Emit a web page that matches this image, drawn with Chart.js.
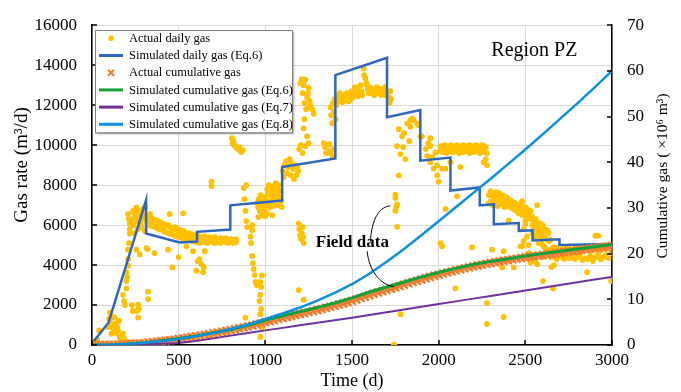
<!DOCTYPE html>
<html>
<head>
<meta charset="utf-8">
<script src="https://cdn.jsdelivr.net/npm/chart.js@4.4.1/dist/chart.umd.min.js"></script>
<style>
html,body{margin:0;padding:0;background:#fff;}
#wrap{width:681px;height:392px;}
</style>
</head>
<body>
<div id="wrap"><canvas id="c" width="681" height="392"></canvas></div>
<script>
// ---------- DATA ----------
// Actual daily gas rate [day, m3/d]
const actualDailyGas = [
[0,0],[5,100],[10,40],[18,200],[25,120],[30,260],[41,730],
[93,900],[98,1300],[102,1620],[108,1100],[112,570],[118,880],[122,1400],[126,700],[131,1370],[136,1050],[140,600],[145,900],[150,730],[155,1200],[160,400],[165,250],[170,150],[179,570],[185,300],[190,200],[200,150],[210,100],[225,80],[240,60],
[179,2510],[185,2200],[190,2000],[198,2830],[198,3200],[198,3640],[203,3400],[208,3970],[208,4300],[208,4770],[213,5100],[218,5580],[218,5800],[218,6070],[208,6550],[213,6300],[225,6200],[237,6710],[245,6600],[256,6880],[265,6750],[275,6630],[285,6500],[295,6800],[305,6900],[266,2020],[266,1370],[260,1700],[270,1800],[324,2670],[324,2300],[314,4850],[275,4530],[256,4770],[230,2000],[235,1700],
[230,6300],[240,6000],[250,6400],[260,6200],[270,6500],[280,6100],[290,6350],[300,6550],[245,5600],[265,5800],[285,5900],[305,5700],
[314,6500],[314,6200],[325,6400],[325,6000],[335,6550],[335,6100],[345,6350],[345,5950],[355,6300],[355,6050],[365,6200],[365,5900],[375,6250],[375,5850],[385,6100],[385,5800],[395,6150],[395,5900],[405,6000],[405,5750],[415,6050],[415,5700],[425,5950],[425,5650],[440,6000],[440,5600],[450,5900],[450,5550],[460,5850],[460,5600],[470,5800],[470,5500],[480,5900],[480,5450],[490,5750],[490,5500],[500,5800],[500,5400],[510,5700],[510,5450],[520,5650],[520,5350],[530,5700],[530,5300],[540,5600],[540,5400],[550,5550],[550,5300],[560,5600],[560,5250],[570,5500],[570,5300],[580,5550],[580,5200],[590,5450],[590,5250],[600,5500],[600,5150],[610,5400],[610,5200],[620,5450],[620,5100],[635,5400],[635,5200],[650,5450],[650,5150],[665,5350],[665,5100],[680,5400],[680,5200],[695,5350],[695,5150],[710,5400],[710,5100],[725,5300],[725,5150],[740,5350],[740,5100],[755,5300],[755,5200],[770,5350],[770,5150],[785,5250],[785,5100],[800,5300],[800,5200],[815,5250],[815,5100],[830,5300],[830,5150],
[448,6550],[526,6590],[464,3880],[320,4805],[602,3720],[641,3640],[583,4690],[650,4690],[439,4770],[545,4935],[689,8170],[689,7950],[678,485],[360,4600],[500,4400],[620,4300],[610,4200],[630,4050],[645,3900],
[808,10350],[815,10200],[820,10000],[827,9950],[835,9850],[845,9800],[856,9700],[862,9650],[870,9750],[812,10100],[850,9900],
[875,7850],[880,7300],[885,6710],[890,6200],[895,5900],[914,5420],[918,5100],[924,4450],[924,5740],[924,6000],[928,4100],[933,3800],[938,3500],[943,3155],[950,3000],[971,3155],[981,3480],[976,2900],[971,2510],[966,2200],[971,1540],[976,1800],[885,1370],[991,1210],[971,400],[981,890],[890,8000],
[952,7100],[958,6900],[962,7300],[968,6700],[972,7500],[978,7000],[985,6500],[990,7200],[995,6800],[1000,7400],[1005,7000],[1010,6600],[1015,7600],[1020,7200],[1025,6900],[1030,7500],[1035,7100],[1040,7700],[1045,7300],[1050,6950],[1055,7600],[1060,7400],[1065,7800],[1068,7000],[960,6400],[1000,6450],[1040,6500],
[1010,7800],[1020,8000],[1030,7900],[1045,7950],[1060,8100],[1075,8000],[1087,7700],[1080,7400],[1070,7600],[1090,7200],[1095,6900],
[1100,8700],[1110,9000],[1120,9200],[1130,8900],[1140,9300],[1150,9100],[1160,8800],[1170,9000],[1180,8500],[1190,8700],[1105,8400],[1125,8600],[1145,8500],[1165,8300],[1185,8900],
[1202,13100],[1210,13300],[1221,13000],[1231,13270],[1241,12380],[1250,12860],[1260,11970],[1279,11570],[1221,10840],[1241,10440],[1231,9950],[1215,12600],[1225,12100],[1235,11800],[1245,12600],[1255,12200],[1270,11800],[1225,11300],[1195,9800],[1205,10000],[1215,9600],[1250,10100],
[1193,6070],[1196,5800],[1200,5500],[1205,5300],[1210,5600],[1215,5900],[1221,5100],[1218,5400],[1221,2270],[1193,2750],
[1337,10100],[1345,9900],[1355,10000],[1365,9700],[1375,9600],[1385,9465],[1395,9800],[1350,9600],[1370,10050],
[1375,11900],[1380,11500],[1385,11100],[1390,12100],[1395,11700],[1400,12300],[1405,11300],[1410,12000],[1414,12380],[1420,12500],[1425,12200],[1430,12600],[1435,12300],[1440,12450],[1445,12150],[1452,12220],[1458,12500],[1465,12300],[1470,12600],[1475,12400],[1480,12200],[1485,12500],[1491,12300],[1497,12700],[1503,12400],[1510,12600],[1515,12900],[1520,12500],[1529,12700],[1535,12450],[1540,12900],[1545,12600],[1550,13000],[1555,12700],[1560,12500],[1567,13830],[1570,13500],[1577,13350],[1582,13100],[1587,13020],[1592,12800],[1598,12600],[1606,12860],[1612,12600],[1620,12800],[1628,12500],[1635,12750],[1642,12900],[1650,12600],[1657,12800],[1664,12780],[1670,12500],[1677,12750],[1684,12600],[1690,12900],[1697,12500],[1705,12650],[1712,12400],[1721,12700],[1725,12300],[1715,12100],
[1760,9950],[1789,10440],[1818,11080],[1856,11250],[1885,11000],[1904,10440],[1779,9550],[1808,9300],[1770,10800],[1800,10600],[1837,11250],[1837,10920],[1847,11320],[1876,11080],[1895,10440],[1830,10200],[1795,9900],
[1933,9465],[1952,9140],[1971,8820],[1991,8490],[2000,8170],[1952,9950],[1981,9630],[2020,8820],[2068,9140],[1952,10350],[1991,8980],[1925,9800],[1940,10100],[1962,9400],
[2010,9950],[2010,9700],[2022,9900],[2022,9650],[2034,10000],[2034,9750],[2046,9950],[2046,9600],[2058,9900],[2058,9700],[2070,10000],[2070,9800],[2082,9950],[2082,9650],[2094,9900],[2094,9750],[2106,10000],[2106,9700],[2118,9950],[2118,9600],[2130,9900],[2130,9800],[2142,10000],[2142,9650],[2154,9950],[2154,9750],[2166,9900],[2166,9700],[2178,10000],[2178,9600],[2190,9950],[2190,9800],[2202,9900],[2202,9650],[2214,10000],[2214,9750],[2226,9950],[2226,9700],[2238,9900],[2238,9600],[2250,10000],[2250,9800],[2262,9950],[2262,9650],[2272,9900],[2272,9300],[2279,9600],[2279,9000],
[2289,7500],[2289,7100],[2300,7550],[2300,7200],[2310,7450],[2310,7000],[2320,7520],[2320,7250],[2330,7400],[2330,7100],[2340,7500],[2340,6950],[2350,7450],[2350,7200],[2360,7380],[2360,7050],[2370,7480],[2370,7150],[2380,7350],[2380,6900],[2390,7400],[2390,7100],[2400,7300],[2400,6950],[2410,7250],[2410,7000],[2420,7200],[2420,6850],[2430,7150],[2430,6900],[2440,7100],[2440,6750],[2450,7050],[2450,6800],[2460,7000],[2460,6600],[2470,6950],[2470,6700],[2480,7000],[2480,6500],[2490,6850],[2490,6600],[2500,6900],[2500,6450],[2510,6800],[2510,6500],[2520,6700],[2520,6400],[2529,6650],[2529,6300],
[2300,7700],[2330,7650],[2350,7600],[2404,6230],[2500,6070],[2510,6390],
[2481,7200],[2529,6710],[2568,7000],[2587,6070],[2626,5740],[2645,5260],[2577,5100],[2529,4130],[2568,4045],[2471,4935],[2510,5420],[2500,6230],
[2540,6400],[2540,6000],[2540,5600],[2550,6200],[2550,5800],[2550,5400],[2560,6300],[2560,5900],[2560,5500],[2575,6100],[2575,5700],[2575,5300],[2590,5900],[2590,5500],[2590,5200],[2600,6000],[2600,5600],[2600,5000],[2610,5800],[2610,5400],[2610,4900],[2620,5700],[2620,5300],[2620,4800],[2635,5600],[2635,5200],[2635,4700],[2490,5800],[2490,5200],[2520,5000],[2520,4600],[2540,4500],[2540,4300],[2555,4200],[2600,4400],
[2650,4800],[2650,4400],[2650,3900],[2665,4900],[2665,4500],[2665,4000],[2680,4850],[2680,4300],[2695,4700],[2695,4500],[2710,4800],[2710,4400],[2725,4750],[2725,4300],[2740,4900],[2740,4500],[2755,4800],[2755,4350],[2770,4700],[2770,4450],[2785,4850],[2785,4300],[2800,4900],[2800,4400],[2815,4750],[2815,4500],[2830,4800],[2830,4250],[2845,4900],[2845,4350],[2860,4850],[2860,4300],[2875,4700],[2875,4450],[2890,4800],[2890,4200],[2905,4900],[2905,4400],[2920,4850],[2920,4550],[2935,4750],[2935,4300],[2950,4900],[2950,4400],[2965,4800],[2965,4500],[2980,4850],[2980,4350],[2995,4900],[2995,4600],
[2904,5470],[2920,5470],[2995,3200],[2602,3200],[2660,2830],[2856,3640],[2702,4530],[2779,4370],
[2020,4935],[2193,4890],[2308,4770],[2375,4690],[2481,4935],[2366,3880],[2433,3880],[2096,2830],[2279,2100],[2279,1050],[2375,1400],
[1770,8490],[1750,7520],[1760,7040],[1760,5910],[2010,5100],[1779,1540],[1740,0],[1745,0],[1750,7360],[1755,6900],[1750,6710],[2039,6800],[2106,7440],[2039,8820],[2125,8900],[2260,9140]
];

// Simulated daily gas (Eq.6) [day, m3/d]
const simDailyDays  = [0,96,312,312,506,606,606,798,798,1097,1097,1404,1404,1702,1702,1894,1894,2068,2068,2237,2237,2318,2318,2462,2462,2542,2542,2697,2697,3000,3000];
const simDailyRates = [80,1130,7250,5580,5130,5180,5660,5780,6990,7230,8900,9330,13500,14370,11400,11760,9220,9380,7730,7880,6990,7040,6040,6100,5710,5740,5230,5290,5000,5050,4610];

// Actual cumulative gas (x10^6 m3), every 25 days
const actualCumDays = [0,25,50,75,100,125,150,175,200,225,250,275,300,325,350,375,400,425,450,475,500,525,550,575,600,625,650,675,700,725,750,775,800,825,850,875,900,925,950,975,1000,1025,1050,1075,1100,1125,1150,1175,1200,1225,1250,1275,1300,1325,1350,1375,1400,1425,1450,1475,1500,1525,1550,1575,1600,1625,1650,1675,1700,1725,1750,1775,1800,1825,1850,1875,1900,1925,1950,1975,2000,2025,2050,2075,2100,2125,2150,2175,2200,2225,2250,2275,2300,2325,2350,2375,2400,2425,2450,2475,2500,2525,2550,2575,2600,2625,2650,2675,2700,2725,2750,2775,2800,2825,2850,2875,2900,2925,2950,2975,3000];
const actualCum = [0,0,0,0.01,0.03,0.05,0.08,0.11,0.15,0.21,0.28,0.35,0.42,0.52,0.62,0.73,0.85,0.96,1.07,1.18,1.3,1.45,1.6,1.75,1.9,2.06,2.22,2.38,2.55,2.72,2.9,3.07,3.25,3.45,3.65,3.85,4.05,4.27,4.5,4.75,5.0,5.22,5.45,5.67,5.9,6.12,6.35,6.57,6.8,7.0,7.2,7.42,7.65,7.87,8.1,8.35,8.6,8.85,9.1,9.37,9.65,9.95,10.25,10.57,10.9,11.2,11.5,11.77,12.05,12.32,12.6,12.9,13.2,13.5,13.8,14.07,14.35,14.62,14.9,15.15,15.4,15.65,15.9,16.12,16.35,16.57,16.8,17.0,17.2,17.4,17.6,17.77,17.95,18.12,18.3,18.45,18.6,18.75,18.9,19.05,19.2,19.32,19.45,19.57,19.7,19.82,19.95,20.07,20.2,20.32,20.45,20.57,20.7,20.82,20.95,21.07,21.2,21.32,21.45,21.57,21.7];

// Simulated cumulative gas (x10^6 m3), every 100 days
const simCumDays = [0,100,200,300,400,500,600,700,800,900,1000,1100,1200,1300,1400,1500,1600,1700,1800,1900,2000,2100,2200,2300,2400,2500,2600,2700,2800,2900,3000];
const simCumEq6 = [0,0.05,0.2,0.5,0.95,1.4,2.0,2.7,3.4,4.3,5.4,6.4,7.3,8.2,9.2,10.3,11.6,12.7,13.8,14.9,15.9,16.8,17.6,18.3,18.9,19.5,20.0,20.5,21.0,21.5,22.0];
const simCumEq7 = [0,0.01,0.04,0.1,0.25,0.45,0.9,1.45,2.05,2.65,3.2,3.75,4.3,4.85,5.4,5.95,6.55,7.15,7.75,8.35,8.95,9.55,10.15,10.75,11.35,11.95,12.55,13.15,13.75,14.35,14.9];
const simCumEq8 = [0,0.05,0.2,0.5,0.9,1.3,1.9,2.6,3.5,4.5,5.7,6.9,8.2,9.7,11.4,13.3,15.6,18.2,21.0,24.0,27.1,30.2,33.3,36.4,39.6,42.8,46.1,49.5,52.9,56.4,60.0];

const seriesLabels = ['Actual daily gas','Simulated daily gas (Eq.6)','Actual cumulative gas','Simulated cumulative gas (Eq.6)','Simulated cumulative gas (Eq.7)','Simulated cumulative gas (Eq.8)'];
const axisTitles = { x: 'Time (d)', y: 'Gas rate (m³/d)', y1: 'Cumulative gas ( ×10⁶ m³)' };

// ---------- CHART ----------
const SERIF = "'Liberation Serif','Times New Roman',serif";
Chart.defaults.font.family = SERIF;
Chart.defaults.color = '#000';

const zip = (xs, ys) => xs.map((x, i) => ({x: x, y: ys[i]}));
const plain = v => String(v);

const tickMarks = {
  id: 'tickMarks',
  afterDraw(chart) {
    const {ctx, chartArea: a, scales} = chart;
    ctx.save();
    ctx.strokeStyle = '#000'; ctx.lineWidth = 1.5;
    ctx.beginPath();
    scales.x.ticks.forEach(t => { const p = Math.round(scales.x.getPixelForValue(t.value)); ctx.moveTo(p, a.bottom); ctx.lineTo(p, a.bottom - 5); });
    scales.y.ticks.forEach(t => { const p = Math.round(scales.y.getPixelForValue(t.value)); ctx.moveTo(a.left, p); ctx.lineTo(a.left + 5, p); });
    scales.y1.ticks.forEach(t => { const p = Math.round(scales.y1.getPixelForValue(t.value)); ctx.moveTo(a.right, p); ctx.lineTo(a.right - 5, p); });
    ctx.stroke();
    // vertical axis titles (both read bottom-to-top)
    ctx.fillStyle = '#000'; ctx.textAlign = 'center'; ctx.textBaseline = 'middle';
    ctx.save(); ctx.translate(22, 165); ctx.rotate(-Math.PI / 2);
    ctx.font = "19px " + SERIF; ctx.fillText(axisTitles.y, 0, 0); ctx.restore();
    ctx.save(); ctx.translate(663, 176); ctx.rotate(-Math.PI / 2);
    ctx.font = "15.5px " + SERIF; ctx.fillText(axisTitles.y1, 0, 0); ctx.restore();
    ctx.restore();
  }
};

const annotations = {
  id: 'annotations',
  afterDatasetsDraw(chart) {
    const {ctx, scales} = chart;
    const X = v => scales.x.getPixelForValue(v), Y = v => scales.y.getPixelForValue(v);
    ctx.save();
    ctx.fillStyle = '#000';
    ctx.textAlign = 'center'; ctx.textBaseline = 'middle';
    ctx.font = "20px " + SERIF;
    ctx.fillText('Region PZ', X(2552), Y(14700));
    ctx.font = "bold 17px " + SERIF;
    ctx.fillText('Field data', X(1502), Y(5100));
    ctx.strokeStyle = '#000'; ctx.lineWidth = 1;
    ctx.beginPath();
    ctx.moveTo(X(1606), Y(5180));
    ctx.bezierCurveTo(X(1612), Y(6000), X(1640), Y(6900), X(1721), Y(6960));
    ctx.moveTo(X(1587), Y(4690));
    ctx.bezierCurveTo(X(1600), Y(3700), X(1660), Y(3050), X(1741), Y(2910));
    ctx.stroke();
    ctx.restore();
  }
};

const boxLegend = {
  id: 'boxLegend',
  afterDraw(chart) {
    const {ctx, chartArea: a} = chart;
    const x0 = a.left + 3, y0 = a.top + 4.6, w = 197, h = 102.5, rowH = 17.2;
    ctx.save();
    ctx.shadowColor = 'rgba(0,0,0,0.35)'; ctx.shadowOffsetX = 2; ctx.shadowOffsetY = 2; ctx.shadowBlur = 2;
    ctx.fillStyle = '#fff'; ctx.fillRect(x0, y0, w, h);
    ctx.shadowColor = 'rgba(0,0,0,0)';
    ctx.strokeStyle = '#808080'; ctx.lineWidth = 1; ctx.strokeRect(Math.round(x0) + 0.5, Math.round(y0) + 0.5, w, h);
    ctx.font = "12.5px " + SERIF; ctx.textBaseline = 'middle'; ctx.textAlign = 'left';
    chart.data.datasets.forEach((ds, i) => {
      const cy = y0 + 8.5 + i * rowH, sx = x0 + 4, ex = x0 + 28, cx = (sx + ex) / 2;
      if (ds.showLine) {
        ctx.strokeStyle = ds.borderColor; ctx.lineWidth = 3;
        ctx.beginPath(); ctx.moveTo(sx, cy); ctx.lineTo(ex, cy); ctx.stroke();
      } else if (ds.pointStyle === 'crossRot') {
        ctx.strokeStyle = ds.borderColor; ctx.lineWidth = 2;
        ctx.beginPath(); ctx.moveTo(cx - 3, cy - 3); ctx.lineTo(cx + 3, cy + 3); ctx.moveTo(cx + 3, cy - 3); ctx.lineTo(cx - 3, cy + 3); ctx.stroke();
      } else {
        ctx.fillStyle = ds.backgroundColor;
        ctx.beginPath(); ctx.arc(cx, cy, 2.8, 0, Math.PI * 2); ctx.fill();
      }
      ctx.fillStyle = '#000';
      ctx.fillText(ds.label, x0 + 34, cy + 0.5);
    });
    ctx.restore();
  }
};

const lineDs = (label, data, color, width, order, axis) => ({
  label, data, showLine: true, borderColor: color, backgroundColor: color, borderWidth: width,
  pointRadius: 0, pointHoverRadius: 0, tension: 0, yAxisID: axis, order
});

new Chart(document.getElementById('c'), {
  type: 'scatter',
  data: {
    datasets: [
      { label: seriesLabels[0], data: actualDailyGas.map(p => ({x: p[0], y: p[1]})), pointStyle: 'circle', pointRadius: 2.9,
        backgroundColor: '#FFC000', borderColor: '#FFC000', borderWidth: 0, yAxisID: 'y', order: 6 },
      lineDs(seriesLabels[1], zip(simDailyDays, simDailyRates), '#2E67C0', 2.5, 5, 'y'),
      { label: seriesLabels[2], data: zip(actualCumDays, actualCum), pointStyle: 'crossRot', pointRadius: 5.5,
        borderColor: '#ED7D31', backgroundColor: '#ED7D31', borderWidth: 2.3, yAxisID: 'y1', order: 4 },
      lineDs(seriesLabels[3], zip(simCumDays, simCumEq6), '#12A03A', 3, 3, 'y1'),
      lineDs(seriesLabels[4], zip(simCumDays, simCumEq7), '#7030A0', 2, 2, 'y1'),
      lineDs(seriesLabels[5], zip(simCumDays, simCumEq8), '#0B8FE0', 2.5, 1, 'y1')
    ]
  },
  options: {
    responsive: false, animation: false, devicePixelRatio: 1,
    layout: { padding: { top: 15, left: 0, right: 0, bottom: 0 } },
    plugins: { legend: { display: false }, tooltip: { enabled: false } },
    scales: {
      x: {
        type: 'linear', min: 0, max: 3000,
        ticks: { stepSize: 500, font: { size: 17 }, padding: 5, maxRotation: 0, callback: plain },
        grid: { color: '#d9d9d9', lineWidth: 1, drawTicks: false },
        border: { color: '#000', width: 1.5 },
        title: { display: true, text: axisTitles.x, font: { size: 18 }, padding: { top: 0, bottom: 0 } },
        afterFit: s => { s.height = 47; }
      },
      y: {
        position: 'left', min: 0, max: 16000,
        ticks: { stepSize: 2000, font: { size: 17 }, padding: 15, callback: plain },
        grid: { color: '#d9d9d9', lineWidth: 1, drawTicks: false },
        border: { color: '#000', width: 1.5 },
        title: { display: false },
        afterFit: s => { s.width = 92; }
      },
      y1: {
        position: 'right', min: 0, max: 70,
        ticks: { stepSize: 10, font: { size: 17 }, padding: 15, callback: plain },
        grid: { display: true, drawOnChartArea: false, drawTicks: false },
        border: { color: '#000', width: 1.5 },
        title: { display: false },
        afterFit: s => { s.width = 69; }
      }
    }
  },
  plugins: [annotations, tickMarks, boxLegend]
});
</script>
</body>
</html>
